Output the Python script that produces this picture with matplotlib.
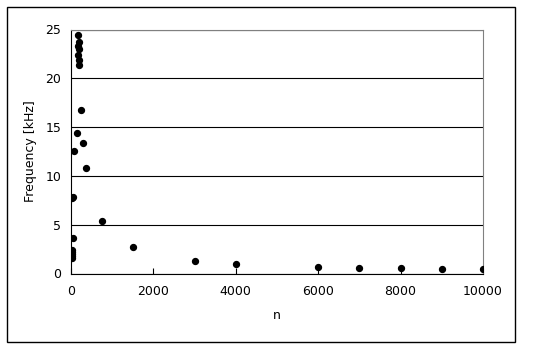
import matplotlib.pyplot as plt
from matplotlib.patches import Rectangle

# data
n_vals = [180, 185, 175, 190, 180, 185, 200,
          243, 146, 300, 73, 372, 20, 45, 752,
          40, 15, 15, 20, 15, 20,
          1500, 3000, 4000, 6000, 7000, 8000, 9000, 10000]
freq_khz = [24.4, 23.7, 23.3, 23.0, 22.4, 21.9, 21.4,
            16.8, 14.4, 13.4, 12.6, 10.8, 7.7, 7.8, 5.36,
            3.6, 2.4, 2.2, 2.0, 1.8, 1.6,
            2.73, 1.30, 0.99, 0.65, 0.58, 0.55, 0.44, 0.48]
x_ticks = [0, 2000, 4000, 6000, 8000, 10000]
y_ticks = [0, 5, 10, 15, 20, 25]


def main():
    plt.rcParams['font.family'] = ['DejaVu Sans']
    fig = plt.figure(figsize=(5.4, 3.5), dpi=100)
    fig.patches.append(Rectangle((7 / 540, 8 / 350), 508 / 540, 335 / 350,
                                 transform=fig.transFigure, fill=False,
                                 edgecolor='black', linewidth=1.0))
    ax = fig.add_axes([71 / 540, 76.5 / 350, 412 / 540, 244 / 350])

    ax.scatter(n_vals, freq_khz, s=18, color='black', zorder=3)

    ax.set_xlim(0, 10000)
    ax.set_ylim(0, 25)
    ax.set_xticks(x_ticks)
    ax.set_yticks(y_ticks)
    ax.tick_params(axis='x', direction='in', length=4, labelsize=9, pad=8)
    ax.tick_params(axis='y', length=0, labelsize=9, pad=7)
    ax.grid(axis='y', color='black', linewidth=0.8)
    ax.set_axisbelow(True)

    for side in ['top', 'right']:
        ax.spines[side].set_color('#808080')
    for side in ['left', 'bottom']:
        ax.spines[side].set_color('black')

    ax.set_xlabel('n', fontsize=9, labelpad=8)
    ax.set_ylabel('Frequency [kHz]', fontsize=9, labelpad=6)

    fig.savefig('out.png', dpi=100)


if __name__ == '__main__':
    main()
